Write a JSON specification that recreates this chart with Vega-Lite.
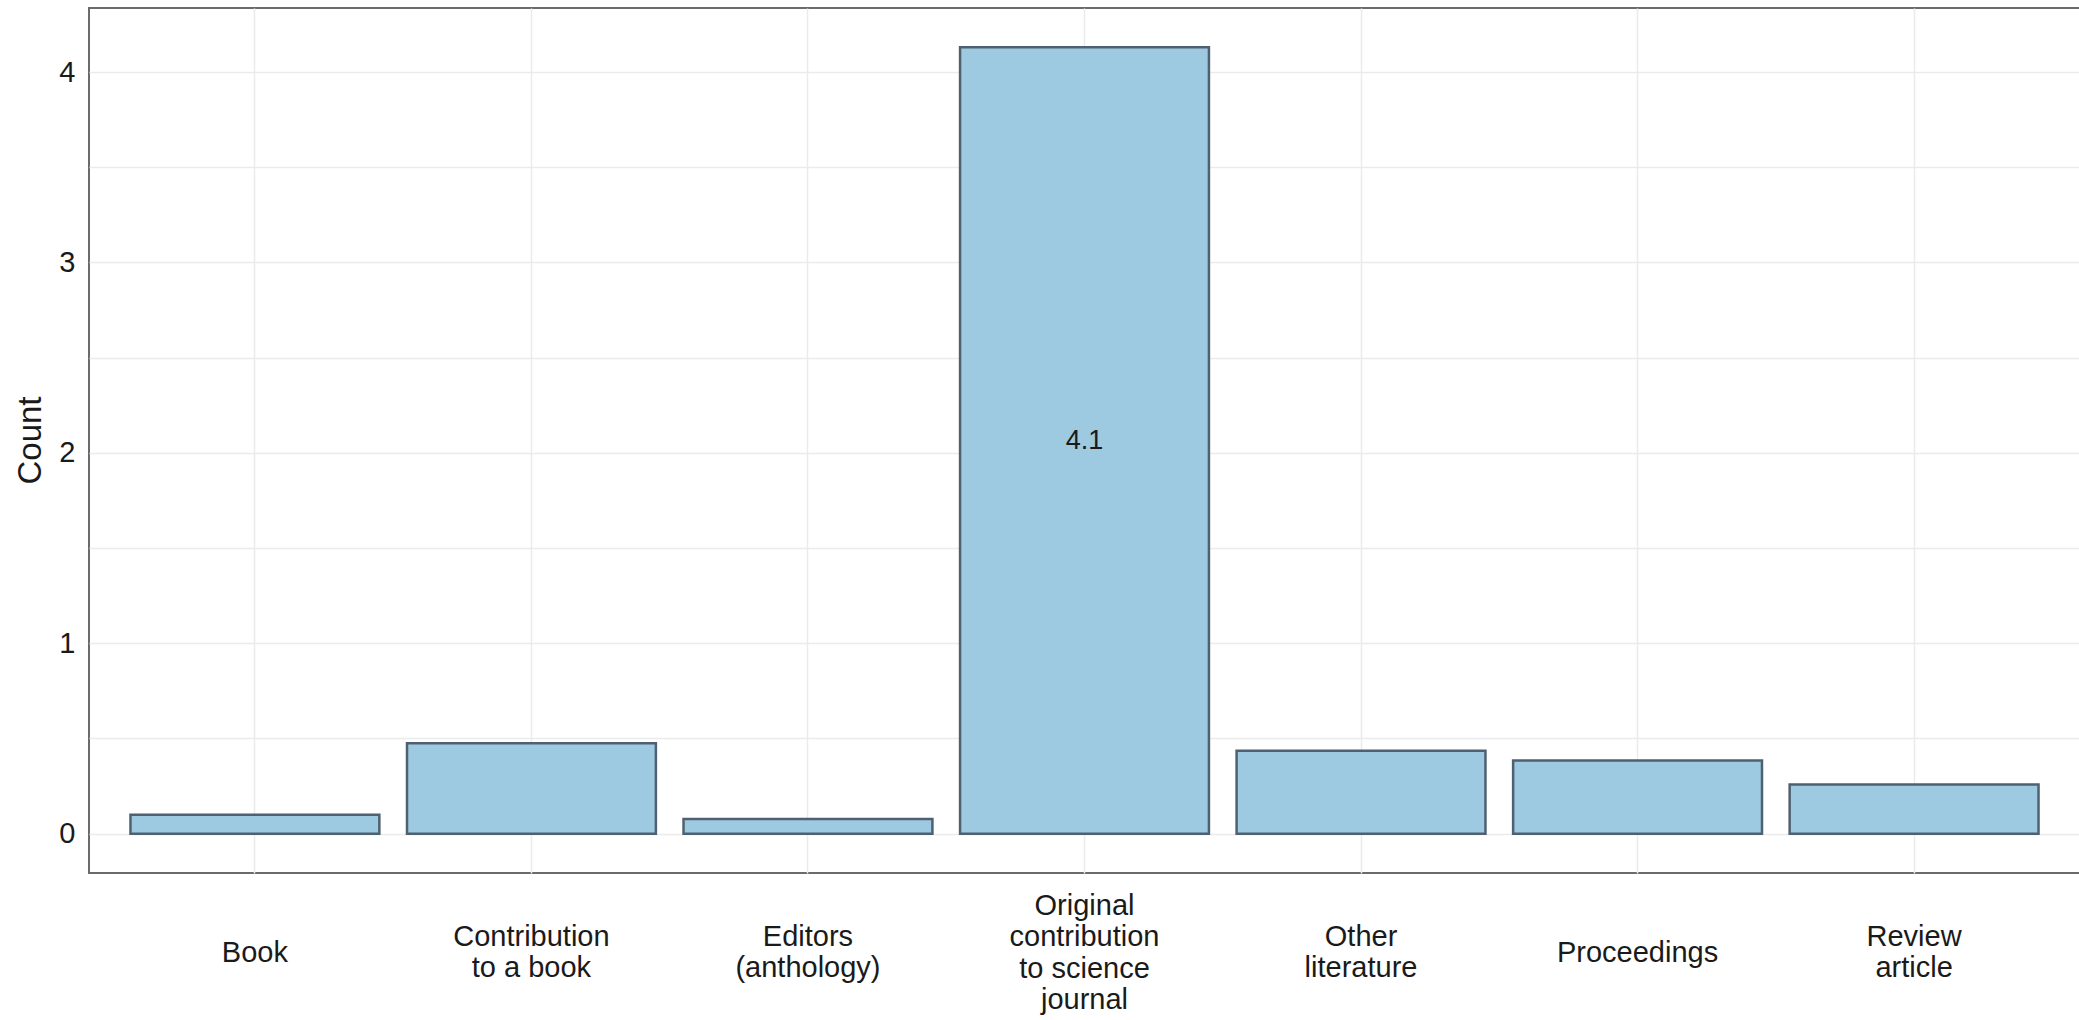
{
  "$schema": "https://vega.github.io/schema/vega-lite/v6.json",
  "autosize": {"type": "none"},
  "padding": {"left": 89, "top": 8, "right": 0, "bottom": 147},
  "width": 1991,
  "height": 865,
  "background": "white",
  "config": {
    "font": "Liberation Sans",
    "view": {"stroke": "#6b6b6b", "strokeWidth": 2},
    "axis": {
      "gridColor": "#ebebeb",
      "gridWidth": 1.5,
      "domain": false,
      "ticks": false,
      "labelFont": "Liberation Sans",
      "labelFontSize": 29,
      "labelColor": "#1a1a1a",
      "titleFont": "Liberation Sans",
      "titleFontSize": 33,
      "titleFontWeight": "normal",
      "titleColor": "#1a1a1a"
    }
  },
  "data": {
    "values": [
      {"Type": "Book", "Count": 0.1},
      {"Type": "Contribution to a book", "Count": 0.475},
      {"Type": "Editors (anthology)", "Count": 0.077},
      {"Type": "Original contribution to science journal", "Count": 4.13},
      {"Type": "Other literature", "Count": 0.435},
      {"Type": "Proceedings", "Count": 0.385},
      {"Type": "Review article", "Count": 0.258}
    ]
  },
  "layer": [
    {
      "mark": {"type": "bar", "fill": "#9ecae1", "stroke": "#4f6170", "strokeWidth": 2.5},
      "encoding": {
        "x": {
          "field": "Type",
          "type": "nominal",
          "sort": null,
          "scale": {"paddingInner": 0.1, "paddingOuter": 0.15},
          "axis": {
            "title": null,
            "grid": true,
            "labelAngle": 0,
            "labelAlign": "center",
            "labelBaseline": "middle",
            "labelPadding": {
              "condition": [
                {"test": "datum.value == 'Original contribution to science journal'", "value": 32},
                {"test": "datum.value == 'Book' || datum.value == 'Proceedings'", "value": 79}
              ],
              "value": 63
            },
            "labelLineHeight": 31.5,
            "labelBound": false,
            "labelOverlap": false,
            "bandPosition": 0.5,
            "labelExpr": "datum.label == 'Contribution to a book' ? ['Contribution', 'to a book'] : datum.label == 'Editors (anthology)' ? ['Editors', '(anthology)'] : datum.label == 'Original contribution to science journal' ? ['Original', 'contribution', 'to science', 'journal'] : datum.label == 'Other literature' ? ['Other', 'literature'] : datum.label == 'Review article' ? ['Review', 'article'] : datum.label"
          }
        },
        "y": {
          "field": "Count",
          "type": "quantitative",
          "scale": {"domain": [-0.2065, 4.3365], "nice": false, "zero": false},
          "axis": {
            "title": "Count",
            "values": [0, 0.5, 1, 1.5, 2, 2.5, 3, 3.5, 4],
            "labelExpr": "datum.value % 1 == 0 ? format(datum.value, 'd') : ''",
            "labelPadding": 14,
            "titleAngle": -90,
            "titleX": -59,
            "titleY": 432,
            "titleBaseline": "middle",
            "titleAlign": "center"
          }
        },
        "y2": {"datum": 0}
      }
    },
    {
      "transform": [{"filter": "datum.Count > 1"}],
      "mark": {"type": "text", "fontSize": 27, "color": "#1a1a1a", "baseline": "middle", "align": "center", "font": "Liberation Sans"},
      "encoding": {
        "x": {"field": "Type", "type": "nominal", "sort": null},
        "y": {
          "field": "Count",
          "type": "quantitative",
          "scale": {"domain": [-0.413, 8.673], "nice": false, "zero": false},
          "axis": null
        },
        "text": {"field": "Count", "type": "quantitative", "format": ".1f"}
      }
    }
  ],
  "resolve": {"scale": {"y": "independent"}}
}
